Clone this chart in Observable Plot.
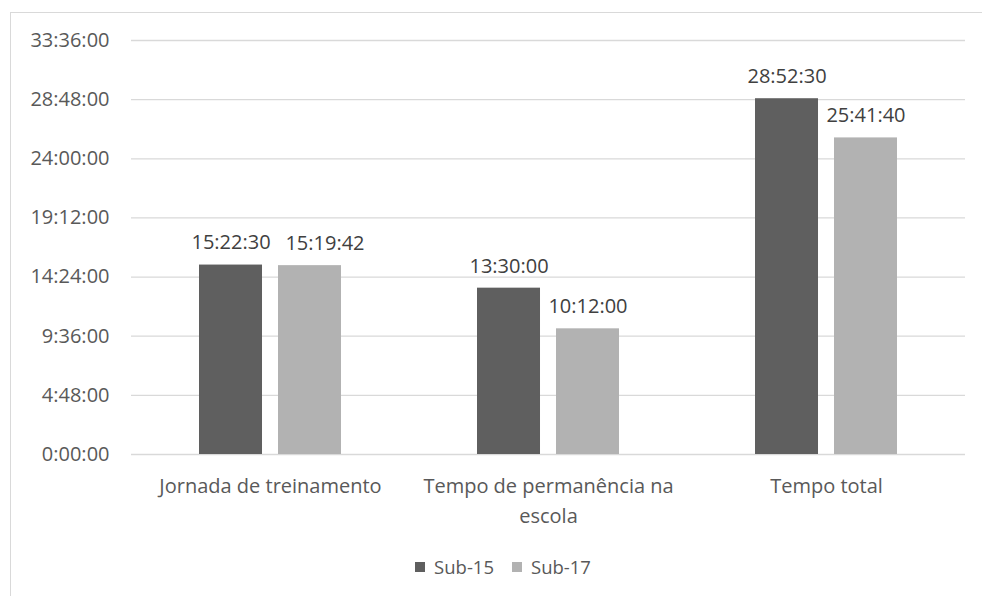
<!DOCTYPE html>
<html>
<head>
<meta charset="utf-8">
<script src="https://cdn.jsdelivr.net/npm/d3@7"></script>
<script src="https://cdn.jsdelivr.net/npm/@observablehq/plot@0.6"></script>
<style>
  html, body { margin: 0; padding: 0; background: #fff; width: 982px; height: 596px; overflow: hidden; }
  #frame { position: absolute; left: 10px; top: 12px; width: 990px; height: 600px;
           border-left: 1.5px solid #d9d9d9; border-top: 1.5px solid #d9d9d9; }
  #chart { position: absolute; left: 0; top: 0; }
  #legend { position: absolute; left: 0; top: 554px; width: 1006px; display: flex; justify-content: center;
            font-family: 'Open Sans', sans-serif; font-size: 18.5px; color: #595959; }
  .item { display: flex; align-items: center; margin: 0 9px; }
  .sw { width: 10px; height: 10px; margin-right: 9px; }
</style>
</head>
<body>
<div id="frame"></div>
<div id="chart"></div>
<div id="legend"></div>
<script>
const categories = ["Jornada de treinamento", "Tempo de permanência na escola", "Tempo total"];
const categoryLabels = ["Jornada de treinamento", "Tempo de permanência na\nescola", "Tempo total"];
const series = ["Sub-15", "Sub-17"];
const sub15 = ["15:22:30", "13:30:00", "28:52:30"];
const sub17 = ["15:19:42", "10:12:00", "25:41:40"];
const tickLabels = ["0:00:00", "4:48:00", "9:36:00", "14:24:00", "19:12:00", "24:00:00", "28:48:00", "33:36:00"];
const colors = ["#5f5f5f", "#b2b2b2"];

const toHours = s => { const [h, m, sec] = s.split(":").map(Number); return h + m / 60 + sec / 3600; };
const tickValues = tickLabels.map(toHours);
const tickLabelOf = new Map(tickValues.map((v, i) => [v, tickLabels[i]]));
const catLabelOf = new Map(categories.map((c, i) => [c, categoryLabels[i]]));

const data = [];
categories.forEach((c, i) => {
  data.push({category: c, series: series[0], label: sub15[i], hours: toHours(sub15[i])});
  data.push({category: c, series: series[1], label: sub17[i], hours: toHours(sub17[i])});
});
// labels that would overlap their neighbour get nudged right (as the original chart does)
const crowded = d => d.series === series[1] && d.category === categories[0];

const chart = Plot.plot({
  width: 982,
  height: 540,
  marginTop: 40,
  marginBottom: 86,
  marginLeft: 131,
  marginRight: 17,
  style: {fontFamily: "'Open Sans', sans-serif", fontSize: "20px", color: "#595959", background: "transparent"},
  fx: {domain: categories, padding: 0, label: null},
  x: {domain: series, paddingInner: 0.2025, paddingOuter: 0.861, axis: null, round: false},
  y: {domain: [0, 33.6], axis: null},
  color: {domain: series, range: colors},
  marks: [
    Plot.gridY(tickValues, {stroke: "#d9d9d9", strokeOpacity: 1, strokeWidth: 1.3}),
    Plot.axisY(tickValues, {tickFormat: d => tickLabelOf.get(d), tickSize: 0, tickPadding: 22, fontSize: 20, fill: "#595959", label: null}),
    Plot.axisFx({tickFormat: d => catLabelOf.get(d), tickSize: 0, tickPadding: 17, fontSize: 20, lineHeight: 1.5, fill: "#595959", label: null, anchor: "bottom"}),
    Plot.barY(data, {fx: "category", x: "series", y: "hours", fill: "series"}),
    Plot.text(data.filter(d => !crowded(d)), {fx: "category", x: "series", y: "hours", text: "label", dy: -22, fontSize: 20, fill: "#404040"}),
    Plot.text(data.filter(crowded), {fx: "category", x: "series", y: "hours", text: "label", dy: -22, dx: 15, fontSize: 20, fill: "#404040"})
  ]
});
document.getElementById("chart").appendChild(chart);

const legend = document.getElementById("legend");
series.forEach((s, i) => {
  const item = document.createElement("div");
  item.className = "item";
  const sw = document.createElement("div");
  sw.className = "sw";
  sw.style.background = colors[i];
  const t = document.createElement("span");
  t.textContent = s;
  item.appendChild(sw);
  item.appendChild(t);
  legend.appendChild(item);
});
</script>
</body>
</html>
